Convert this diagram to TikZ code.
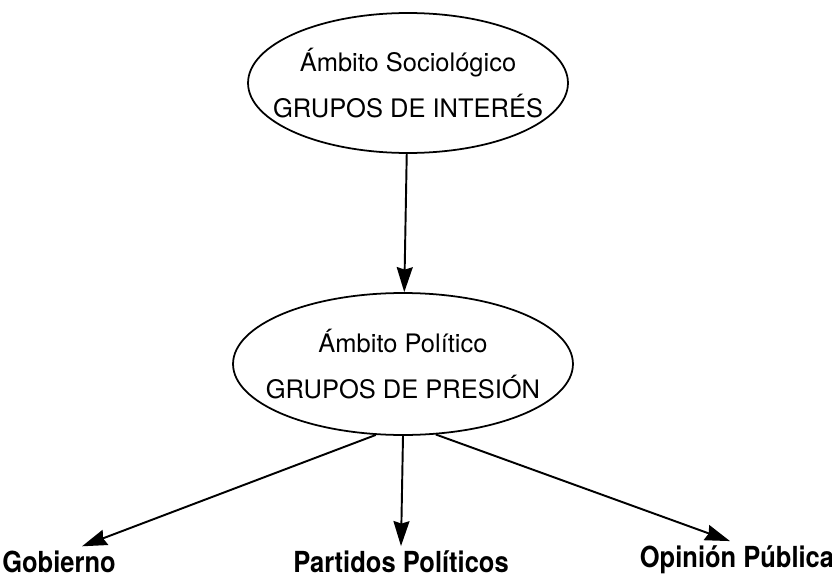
\documentclass[tikz,border=0pt]{standalone}
\usepackage{fontspec}
\setmainfont{TeX Gyre Heros}
\newfontfamily\lblfont[FakeStretch=0.88]{TeX Gyre Heros}
\usetikzlibrary{calc}
\usetikzlibrary{arrows.meta}
\usetikzlibrary{shapes.geometric}

\begin{document}
\begin{tikzpicture}[x=0.02cm, y=-0.02cm, >={Stealth[length=0.5cm,width=0.32cm,inset=0.05cm]},
 ambito/.style={draw, ellipse, line width=1pt, inner xsep=-1cm, inner ysep=-0.5cm, align=center, font=\fontsize{14.5}{26}\selectfont},
 destino/.style={inner sep=1pt, font=\lblfont\bfseries\fontsize{16.5}{18}\selectfont},
 flecha/.style={->, line width=1.1pt}]
\useasboundingbox (0,0) rectangle (832,578);
\node[ambito, minimum width=6.4cm, minimum height=2.8cm] (soc) at (408,83) {Ámbito Sociológico\\GRUPOS DE INTERÉS};
\node[ambito, minimum width=6.8cm, minimum height=2.84cm] (pol) at (403,364) {Ámbito Político\\GRUPOS DE PRESIÓN};
\node[destino, anchor=base] (gob) at (59,572) {Gobierno};
\node[destino, anchor=base] (par) at (401,572) {Partidos Políticos};
\node[destino, anchor=base] (opi) at (737,567) {Opinión Pública};
\draw[flecha] (soc) -- (pol);
\foreach \ang/\dst/\dx in {249/gob/23, 270/par/0, 295/opi/-7}
 \draw[flecha] (pol.\ang) -- ($(\dst.north)+(\dx,-2)$);
\end{tikzpicture}
\end{document}
